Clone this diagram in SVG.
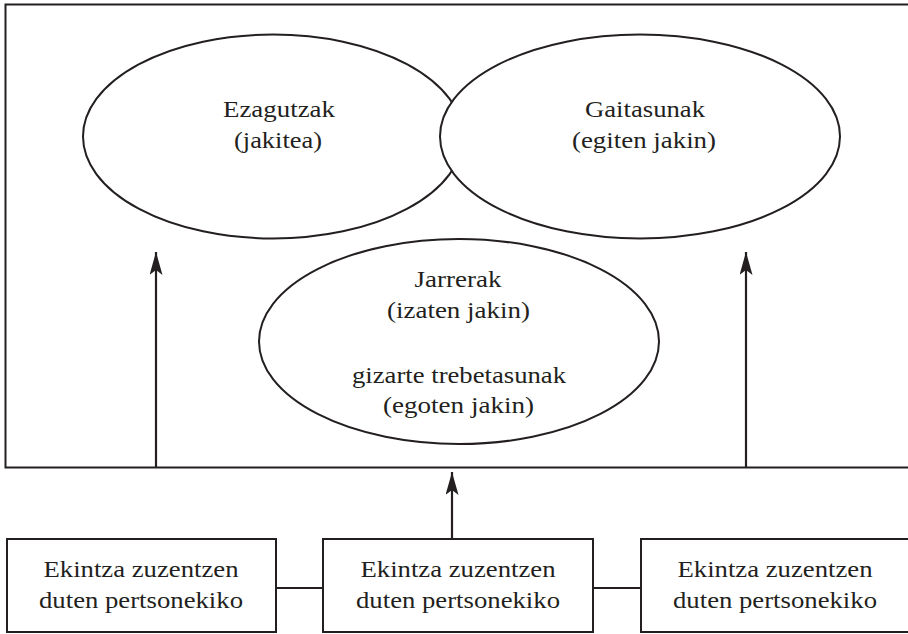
<svg xmlns="http://www.w3.org/2000/svg" width="908" height="634" viewBox="0 0 908 634">
<style>
.s{fill:none;stroke:#231f20;stroke-width:2}
.e{fill:#fff;stroke:#231f20;stroke-width:2}
.l{fill:none;stroke:#231f20;stroke-width:2.2}
.t{font-size:23.5px;fill:#231f20;text-anchor:middle}
</style>
<defs>
<marker id="ah" viewBox="0 0 23 13" refX="23" refY="6.5" markerWidth="23" markerHeight="13" markerUnits="userSpaceOnUse" orient="auto">
<path d="M23,6.5 L0,0 L5,6.5 L0,13 Z" fill="#231f20"/>
</marker>
</defs>
<rect width="908" height="634" fill="#fff"/>
<g id="frame"><path class="s" d="M912,4.5 H5.5 V467.5 H912"/></g>
<g id="ezagutzak" class="t" font-family="Liberation Serif, Times New Roman, serif">
<ellipse class="e" cx="273" cy="136.5" rx="190" ry="102"/>
<text x="279" y="117" textLength="112" lengthAdjust="spacingAndGlyphs">Ezagutzak</text>
<text x="278" y="148" textLength="88" lengthAdjust="spacingAndGlyphs">(jakitea)</text>
</g>
<g id="gaitasunak" class="t" font-family="Liberation Serif, Times New Roman, serif">
<ellipse class="e" cx="640" cy="136.5" rx="200" ry="102"/>
<text x="645" y="117" textLength="120" lengthAdjust="spacingAndGlyphs">Gaitasunak</text>
<text x="644" y="148" textLength="144" lengthAdjust="spacingAndGlyphs">(egiten jakin)</text>
</g>
<g id="jarrerak" class="t" font-family="Liberation Serif, Times New Roman, serif">
<ellipse class="e" cx="459" cy="341.5" rx="200" ry="102.5"/>
<text x="458" y="287" textLength="87" lengthAdjust="spacingAndGlyphs">Jarrerak</text>
<text x="458.5" y="318" textLength="143" lengthAdjust="spacingAndGlyphs">(izaten jakin)</text>
<text x="459" y="383" textLength="214" lengthAdjust="spacingAndGlyphs">gizarte trebetasunak</text>
<text x="458.5" y="413" textLength="151" lengthAdjust="spacingAndGlyphs">(egoten jakin)</text>
</g>
<g id="box1" class="t" font-family="Liberation Serif, Times New Roman, serif">
<rect class="s" x="7" y="539" width="269" height="93"/>
<text x="141" y="577" textLength="195" lengthAdjust="spacingAndGlyphs">Ekintza zuzentzen</text>
<text x="141" y="608" textLength="204" lengthAdjust="spacingAndGlyphs">duten pertsonekiko</text>
</g>
<g id="box2" class="t" font-family="Liberation Serif, Times New Roman, serif">
<rect class="s" x="323" y="539" width="270" height="93"/>
<text x="458" y="577" textLength="195" lengthAdjust="spacingAndGlyphs">Ekintza zuzentzen</text>
<text x="458" y="608" textLength="204" lengthAdjust="spacingAndGlyphs">duten pertsonekiko</text>
</g>
<g id="box3" class="t" font-family="Liberation Serif, Times New Roman, serif">
<rect class="s" x="641" y="539" width="270" height="93"/>
<text x="775" y="577" textLength="195" lengthAdjust="spacingAndGlyphs">Ekintza zuzentzen</text>
<text x="775" y="608" textLength="204" lengthAdjust="spacingAndGlyphs">duten pertsonekiko</text>
</g>
<g id="connectors">
<line class="l" x1="156" y1="467" x2="156" y2="252" marker-end="url(#ah)"/>
<line class="l" x1="746" y1="467" x2="746" y2="252" marker-end="url(#ah)"/>
<line class="l" x1="452" y1="539" x2="452" y2="472" marker-end="url(#ah)"/>
<line class="l" x1="276" y1="588" x2="323" y2="588"/>
<line class="l" x1="593" y1="588" x2="641" y2="588"/>
</g>
</svg>
